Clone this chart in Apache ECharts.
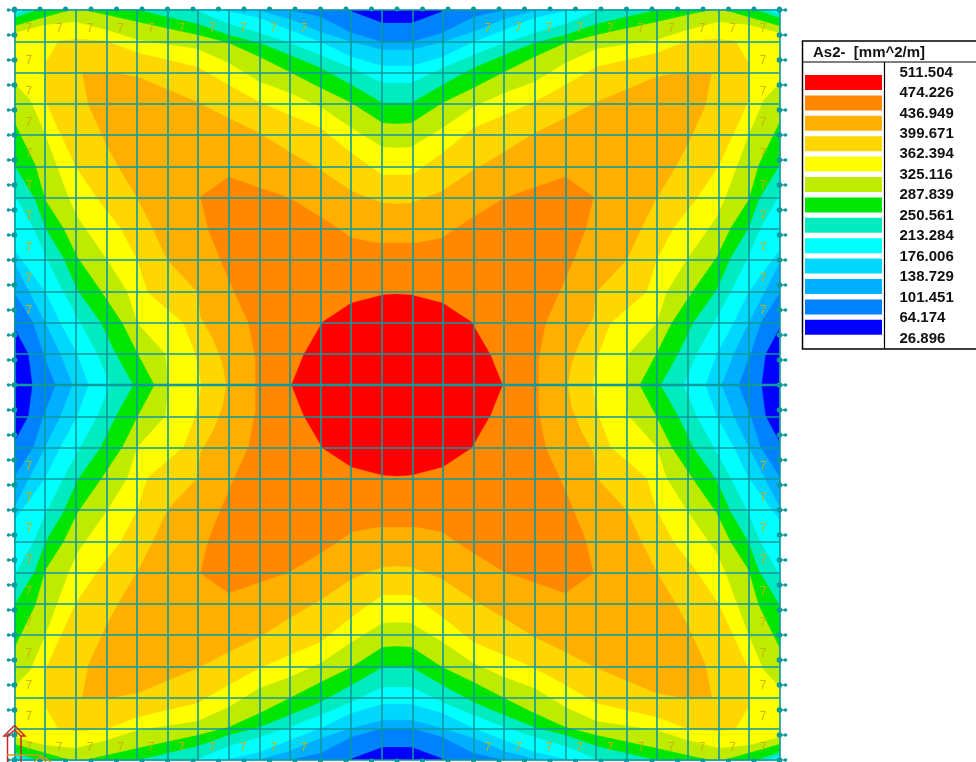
<!DOCTYPE html>
<html><head><meta charset="utf-8">
<style>html,body{margin:0;padding:0;background:#fff}#c{width:976px;height:762px}</style>
<script src="https://cdn.jsdelivr.net/npm/echarts@6/dist/echarts.min.js"></script>
</head><body><div id="c"></div>
<script>
const legendTitle = 'As2-  [mm^2/m]';
const legendValues = ['511.504','474.226','436.949','399.671','362.394','325.116','287.839','250.561','213.284','176.006','138.729','101.451','64.174','26.896'];
const bandColors = ['#FF0000','#FF8800','#FFAF00','#FFD700','#FFFF00','#BEEB00','#00E600','#00EBC0','#00FFFF','#00D7FF','#00AFFF','#0082FF','#0000FF'];
// Contours, upper-left quadrant of the slab: left mid-line to top mid-line (x,y in plate units)
const band_26 = [[0,375],[0,0],[382.5,0]];
const band_64 = [[18,375],[14,344],[0,318],[0,0],[333,0],[368,13],[382.5,13]];
const band_101 = [[41,375],[29,344],[19,313],[0,283],[0,0],[275,0],[306,7],[337,23],[368,32],[382.5,32]];
const band_139 = [[58,375],[46,344],[31,313],[0,253],[0,0],[241,0],[275,9],[306,22],[337,32],[368,40],[382.5,40]];
const band_176 = [[74,375],[63,344],[46,313],[31,282],[0,240],[0,0],[208,0],[245,8],[275,20],[306,32],[337,47],[368,56],[382.5,56]];
const band_213 = [[96,375],[83,344],[66,313],[49,282],[33,250],[19,218],[3,190],[0,183],[0,4],[13,0],[181,0],[214,14],[245,23],[275,33],[306,45],[337,58],[368,73],[382.5,73]];
const band_251 = [[119,375],[101,343],[86,312],[63,280],[49,248],[31,218],[21,190],[0,155],[0,8],[23,0],[123,0],[153,7],[183,14],[214,25],[245,33],[275,45],[306,58],[337,75],[368,93],[382.5,93]];
const band_288 = [[140,375],[123,343],[108,313],[86,280],[63,247],[49,218],[31,190],[21,155],[0,112],[0,16],[56,0],[69,0],[92,5],[123,12],[183,25],[214,33],[245,47],[275,62],[306,78],[337,93],[368,113],[382.5,114]];
const band_325 = [[154,375],[151,344],[123,313],[113,282],[93,250],[63,207],[54,187],[31,125],[16,90],[0,73],[0,23],[31,15],[61,12],[92,20],[123,30],[183,39],[214,53],[245,72],[275,83],[306,97],[337,118],[368,137],[382.5,138]];
const band_362 = [[187,375],[181,344],[169,313],[133,282],[123,250],[106,218],[84,190],[61,156],[41,113],[31,90],[31,53],[44,31],[63,29],[92,31],[123,43],[183,57],[214,75],[245,92],[275,105],[306,118],[337,143],[368,165],[382.5,165]];
const band_400 = [[212,375],[208,353],[199,330],[186,307],[183,282],[153,250],[138,218],[124,190],[104,157],[91,133],[74,95],[68,63],[101,63],[123,67],[183,92],[214,108],[245,123],[275,142],[306,160],[337,181],[368,193],[382.5,194]];
const band_437 = [[241,375],[241,350],[234,313],[219,280],[206,250],[194,220],[186,187],[214,167],[275,188],[306,207],[326,220],[337,228],[363,233],[382.5,233]];
const band_474 = [[277,375],[289,345],[308,312],[337,293],[368,285],[382.5,284]];
const bandContours = [band_26,band_64,band_101,band_139,band_176,band_213,band_251,band_288,band_325,band_362,band_400,band_437,band_474];
const plateWidth = 765, plateHeight = 750;
const cellsX = 25, cellsY = 24, nodesX = 30, nodesY = 30;
const labelValue = '7';
const labelColumns = [0,1,2,3,4,5,6,7,8,9,15,16,17,18,19,20,21,22,23,24];
const labelRows = [0,1,2,3,4,5,6,7,8,9,14,15,16,17,18,19,20,21,22,23];

const ring = q => {
  const W=plateWidth,H=plateHeight,r=[];
  q.forEach(p=>r.push([p[0],p[1]]));
  [...q].reverse().forEach(p=>r.push([W-p[0],p[1]]));
  q.forEach(p=>r.push([W-p[0],H-p[1]]));
  [...q].reverse().forEach(p=>r.push([p[0],H-p[1]]));
  return r;
};
const colorsUp = [...bandColors].reverse();
const bandData = bandContours.map((q,i)=>({value:[i],ring:ring(q),color:colorsUp[i]}));

const edgeNodes = [];
for(let i=0;i<=nodesX;i++){const x=i*plateWidth/nodesX; edgeNodes.push([x,0,0,-1]); edgeNodes.push([x,plateHeight,0,1]);}
for(let j=0;j<=nodesY;j++){const y=j*plateHeight/nodesY; edgeNodes.push([0,y,-1,0]); edgeNodes.push([plateWidth,y,1,0]);}

const labelData = [];
const cw=plateWidth/cellsX, ch=plateHeight/cellsY;
const pushL=(c,r)=>labelData.push([(c+.5)*cw-1,(r+.5)*ch+3.4,labelValue]);
labelColumns.forEach(c=>{pushL(c,0);pushL(c,cellsY-1);});
labelRows.slice(1,-1).forEach(r=>{pushL(0,r);pushL(cellsX-1,r);});

const TEAL='#0C9A9C';
const chart = echarts.init(document.getElementById('c'));
// legend
const lg=[];
const black='#000';
lg.push({type:'rect',shape:{x:802.5,y:41,width:200,height:308},style:{fill:'#fff',stroke:black,lineWidth:1.5},z:1});
lg.push({type:'line',shape:{x1:802,y1:62,x2:976,y2:62},style:{stroke:black,lineWidth:1.2},z:2});
lg.push({type:'line',shape:{x1:884.5,y1:62,x2:884.5,y2:349},style:{stroke:black,lineWidth:1.2},z:2});
lg.push({type:'text',x:813,y:53,style:{text:legendTitle,font:'bold 15px "Liberation Sans"',fill:'#111',textVerticalAlign:'middle'},z:3});
legendValues.forEach((v,i)=>{
  lg.push({type:'text',x:899.5,y:72.5+i*20.46,style:{text:v,font:'bold 15px "Liberation Sans"',fill:'#111',textVerticalAlign:'middle'},z:3});
});
bandColors.forEach((c,i)=>{
  lg.push({type:'rect',shape:{x:805,y:75+i*20.4,width:77,height:15},style:{fill:c},z:3});
});
// local axes at the corner
const red='#C8282D', gold='#C8A020';
const arrow=(pts)=>({type:'polyline',shape:{points:pts},style:{stroke:red,fill:null,lineWidth:1.5},z:20});
lg.push(arrow([[7.5,762],[7.5,736],[4,736],[14.5,725.5],[25,736],[21,736],[21,762]]));
lg.push(arrow([[7.5,736],[14.5,730],[21,736]]));
lg.push({type:'polyline',shape:{points:[[7,755],[40,755],[51,762]]},style:{stroke:gold,fill:null,lineWidth:1.5},z:20});
lg.push({type:'polyline',shape:{points:[[34,762],[40,757],[46,762]]},style:{stroke:gold,fill:null,lineWidth:1.5},z:20});

chart.setOption({
  animation:false,
  backgroundColor:'#fff',
  grid:{left:14.5,top:10,width:plateWidth,height:plateHeight,containLabel:false},
  xAxis:{type:'value',min:0,max:plateWidth,interval:plateWidth/cellsX,z:5,
    axisLabel:{show:false},axisTick:{show:false},axisLine:{show:false},
    splitLine:{show:true,lineStyle:{color:TEAL,width:1.6}}},
  yAxis:{type:'value',min:0,max:plateHeight,interval:plateHeight/cellsY,inverse:true,z:5,
    axisLabel:{show:false},axisTick:{show:false},axisLine:{show:false},
    splitLine:{show:true,lineStyle:{color:TEAL,width:1.6}}},
  graphic:{elements:lg},
  series:[
    {type:'custom',coordinateSystem:'cartesian2d',z:1,silent:true,
     data:bandData,encode:{x:[],y:[]},
     renderItem:(p,api)=>{
       const d=bandData[p.dataIndex];
       return {type:'polygon',shape:{points:d.ring.map(c=>api.coord(c))},style:{fill:d.color,stroke:d.color,lineWidth:0.3}};
     }},
    {type:'line',data:[[0,plateHeight/2],[plateWidth,plateHeight/2]],showSymbol:false,z:8,silent:true,
     lineStyle:{color:TEAL,width:2.6}},
    {type:'scatter',data:labelData,symbolSize:1,itemStyle:{opacity:0},z:9,silent:true,
     label:{show:true,position:'inside',formatter:o=>o.value[2],font:'bold 18px "Liberation Sans"',color:'#C6B208',opacity:0.92}},
    {type:'custom',coordinateSystem:'cartesian2d',z:10,silent:true,
     data:edgeNodes,clip:false,
     renderItem:(p,api)=>{
       const x=api.value(0),y=api.value(1),dx=api.value(2),dy=api.value(3);
       const c=api.coord([x,y]);
       const ch=[];
       if(dx!==0){
         ch.push({type:'line',shape:{x1:c[0],y1:c[1],x2:c[0]+dx*6,y2:c[1]},style:{stroke:TEAL,lineWidth:1.4}});
         ch.push({type:'circle',shape:{cx:c[0]+dx*6,cy:c[1],r:1.8},style:{fill:TEAL}});
         ch.push({type:'circle',shape:{cx:c[0],cy:c[1],r:2.8},style:{fill:TEAL}});
       } else {
         ch.push({type:'circle',shape:{cx:c[0],cy:c[1]+dy*1,r:2.5},style:{fill:TEAL}});
       }
       return {type:'group',children:ch};
     }}
  ]
});
</script></body></html>
